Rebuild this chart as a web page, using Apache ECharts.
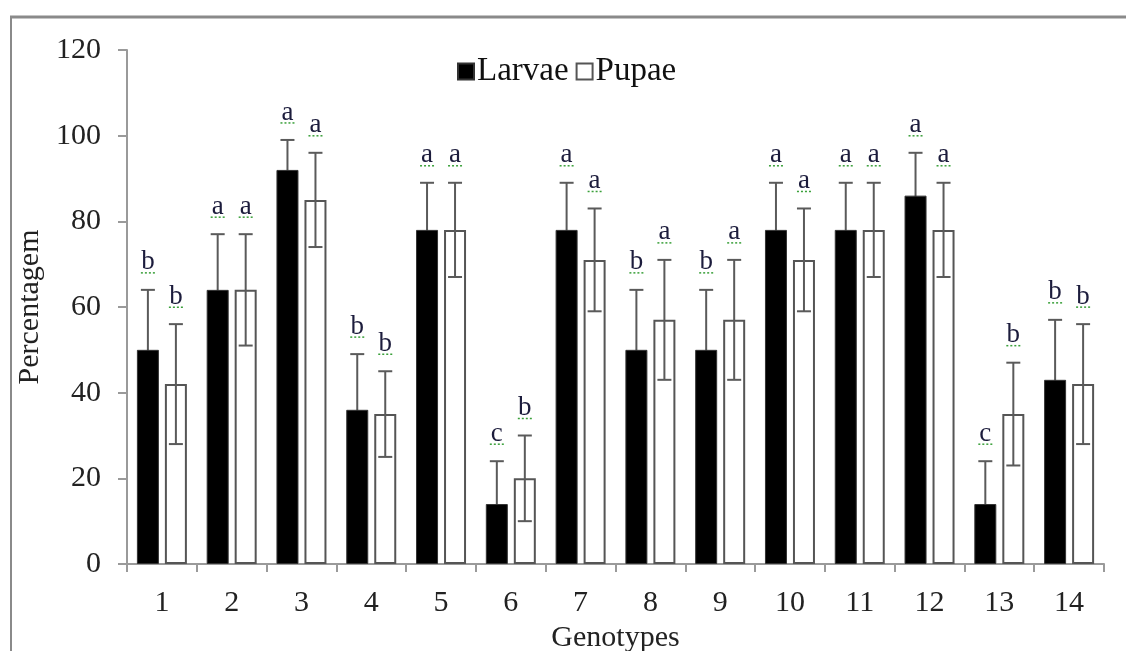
<!DOCTYPE html>
<html>
<head>
<meta charset="utf-8">
<script src="https://cdn.jsdelivr.net/npm/echarts@6/dist/echarts.min.js"></script>
<style>html,body{margin:0;padding:0;background:#fff;}#c{width:1126px;height:651px;}</style>
</head>
<body>
<div id="c"></div>
<script>
const categories = ['1','2','3','4','5','6','7','8','9','10','11','12','13','14'];
const larvae     = [50, 64, 92, 36, 78, 14, 78, 50, 50, 78, 78, 86, 14, 43];
const larvaeErr  = [14, 13,  7, 13, 11, 10, 11, 14, 14, 11, 11, 10, 10, 14];
const pupae      = [42, 64, 85, 35, 78, 20, 71, 57, 57, 71, 78, 78, 35, 42];
const pupaeErr   = [14, 13, 11, 10, 11, 10, 12, 14, 14, 12, 11, 11, 12, 14];
const larvaeLetters = ['b','a','a','b','a','c','a','b','b','a','a','a','c','b'];
const pupaeLetters  = ['b','a','a','b','a','b','a','a','a','a','a','a','b','b'];
const yTicks = [0, 20, 40, 60, 80, 100, 120];

const FONT = '"Liberation Serif", "Times New Roman", serif';
const BAR_W = 22, BAR_GAP = 6;
const OFF = (BAR_W + BAR_GAP) / 2;

function errSeries(name, vals, errs, letters, dir, z) {
  return {
    type: 'custom', name: name, z: z,
    data: vals.map((v, i) => [i, v, errs[i]]),
    renderItem: function (params, api) {
      const i = api.value(0), v = api.value(1), e = api.value(2);
      const c = api.coord([i, v]);
      const hi = api.coord([i, v + e]);
      const lo = api.coord([i, v - e]);
      const x = c[0] + dir * OFF;
      const cap = 7;
      const st = { stroke: '#5a5a5a', lineWidth: 2 };
      const letter = letters[params.dataIndex];
      return {
        type: 'group',
        children: [
          { type: 'line', shape: { x1: x, y1: lo[1], x2: x, y2: hi[1] }, style: st },
          { type: 'line', shape: { x1: x - cap, y1: hi[1], x2: x + cap, y2: hi[1] }, style: st },
          { type: 'line', shape: { x1: x - cap, y1: lo[1], x2: x + cap, y2: lo[1] }, style: st },
          { type: 'text', style: { text: letter, x: x, y: hi[1] - 14, align: 'center', verticalAlign: 'bottom',
              font: '27px ' + FONT, fill: '#1c1c3c' } },
          { type: 'line', shape: { x1: x - 7, y1: hi[1] - 17, x2: x + 7, y2: hi[1] - 17 },
            style: { stroke: '#3aa03a', lineWidth: 1.5, lineDash: [2, 2] } }
        ]
      };
    }
  };
}

const chart = echarts.init(document.getElementById('c'));
chart.setOption({
  animation: false,
  backgroundColor: '#fff',
  grid: { left: 127, right: 22, top: 50, bottom: 87, containLabel: false, outerBoundsMode: 'none' },
  legend: {
    data: ['Larvae', 'Pupae'],
    left: 452, top: 50,
    icon: 'rect', itemWidth: 16, itemHeight: 16, itemGap: 7,
    textStyle: { fontFamily: FONT, fontSize: 33, color: '#111', padding: [0, 0, 0, -2] }
  },
  xAxis: {
    type: 'category', data: categories,
    name: 'Genotypes', nameLocation: 'middle', nameGap: 56,
    nameTextStyle: { fontFamily: FONT, fontSize: 30, color: '#222' },
    axisLine: { lineStyle: { color: '#9a9a9a', width: 2 } },
    axisTick: { show: true, length: 8, lineStyle: { color: '#9a9a9a', width: 2 } },
    axisLabel: { fontFamily: FONT, fontSize: 30, color: '#222', margin: 24 }
  },
  yAxis: {
    type: 'value', min: 0, max: 120, interval: 20,
    name: 'Percentagem', nameLocation: 'middle', nameGap: 78,
    nameTextStyle: { fontFamily: FONT, fontSize: 30, color: '#222' },
    axisLine: { show: true, lineStyle: { color: '#9a9a9a', width: 2 } },
    axisTick: { show: true, length: 9, lineStyle: { color: '#9a9a9a', width: 2 } },
    axisLabel: { fontFamily: FONT, fontSize: 30, color: '#222', margin: 26,
      formatter: v => (yTicks.indexOf(v) >= 0 ? String(v) : '') },
    splitLine: { show: false }
  },
  series: [
    { name: 'Larvae', type: 'bar', data: larvae, barWidth: BAR_W, barGap: (BAR_GAP / BAR_W * 100) + '%',
      itemStyle: { color: '#000', borderColor: '#333', borderWidth: 1 }, z: 2 },
    { name: 'Pupae', type: 'bar', data: pupae, barWidth: BAR_W,
      itemStyle: { color: '#fff', borderColor: '#555', borderWidth: 2 }, z: 2 },
    errSeries('LarvaeErr', larvae, larvaeErr, larvaeLetters, -1, 1),
    errSeries('PupaeErr', pupae, pupaeErr, pupaeLetters, 1, 3)
  ],
  graphic: [
    { type: 'line', shape: { x1: 10, y1: 17, x2: 1126, y2: 17 }, style: { stroke: '#8a8a8a', lineWidth: 3 } },
    { type: 'line', shape: { x1: 11, y1: 17, x2: 11, y2: 651 }, style: { stroke: '#8a8a8a', lineWidth: 2 } }
  ]
});
</script>
</body>
</html>
